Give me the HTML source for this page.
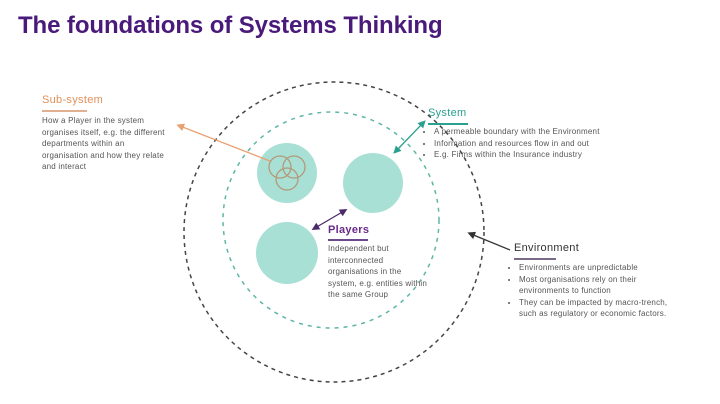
<!DOCTYPE html>
<html><head><style>
body{margin:0;width:720px;height:404px;background:#fff;overflow:hidden;position:relative;font-family:"Liberation Sans",sans-serif}
.t{position:absolute;font-size:8px;line-height:11.5px;color:#555;letter-spacing:0.2px}
h1{position:absolute;left:18px;top:12px;margin:0;font-size:24px;color:#4a1a7a;font-weight:bold;letter-spacing:-0.1px}
.h{position:absolute;font-size:11px;letter-spacing:0.3px}
.u{position:absolute;height:1.5px}
ul{margin:0;padding-left:9px}
</style></head><body>
<h1>The foundations of Systems Thinking</h1>
<svg width="720" height="404" style="position:absolute;left:0;top:0">
<defs>
<marker id="a" markerWidth="6" markerHeight="6" refX="3" refY="3" orient="auto-start-reverse"><path d="M0,0L6,3L0,6z" fill="context-stroke"/></marker>
</defs>
<circle cx="334" cy="232" r="150" fill="none" stroke="#444" stroke-width="1.5" stroke-dasharray="4,4"/>
<circle cx="331" cy="220" r="108" fill="none" stroke="#5fb5a6" stroke-width="1.5" stroke-dasharray="4,5"/>
<circle cx="287" cy="173" r="30" fill="#a8e0d6"/>
<circle cx="373" cy="183" r="30" fill="#a8e0d6"/>
<circle cx="287" cy="253" r="31" fill="#a8e0d6"/>
<g fill="none" stroke="#b39a78" stroke-width="1.3">
<circle cx="280" cy="167" r="11"/><circle cx="294" cy="167" r="11"/><circle cx="287" cy="179" r="11"/></g>
<line x1="270" y1="161" x2="180" y2="126" stroke="#e8a070" stroke-width="1.3" marker-end="url(#a)"/>
<line x1="396" y1="151" x2="423" y2="123" stroke="#2aa08e" stroke-width="1.3" marker-start="url(#a)" marker-end="url(#a)"/>
<line x1="315" y1="228" x2="344" y2="211" stroke="#4a2a6a" stroke-width="1.3" marker-start="url(#a)" marker-end="url(#a)"/>
<line x1="510" y1="250" x2="471" y2="234" stroke="#333" stroke-width="1.3" marker-end="url(#a)"/>
</svg>
<div class="h" style="left:42px;top:94px;color:#e0915a">Sub-system</div>
<div class="u" style="left:42px;top:110px;width:45px;background:#e0b090"></div>
<div class="t" style="left:42px;top:115px;width:125px">How a Player in the system organises itself, e.g. the different departments within an organisation and how they relate and interact</div>
<div class="h" style="left:428px;top:107px;color:#2aa08e">System</div>
<div class="u" style="left:428px;top:123px;width:40px;background:#2aa08e"></div>
<div class="t" style="left:425px;top:126px;width:230px"><ul><li>A permeable boundary with the Environment</li><li>Information and resources flow in and out</li><li>E.g. Firms within the Insurance industry</li></ul></div>
<div class="h" style="left:328px;top:224px;color:#6a2a8a;font-weight:bold">Players</div>
<div class="u" style="left:328px;top:239px;width:40px;background:#6a4a8a"></div>
<div class="t" style="left:328px;top:243px;width:100px">Independent but interconnected organisations in the system, e.g. entities within the same Group</div>
<div class="h" style="left:514px;top:242px;color:#333">Environment</div>
<div class="u" style="left:514px;top:258px;width:42px;background:#7a6a8a"></div>
<div class="t" style="left:510px;top:262px;width:175px"><ul><li>Environments are unpredictable</li><li>Most organisations rely on their environments to function</li><li>They can be impacted by macro-trench, such as regulatory or economic factors.</li></ul></div>
</body></html>
